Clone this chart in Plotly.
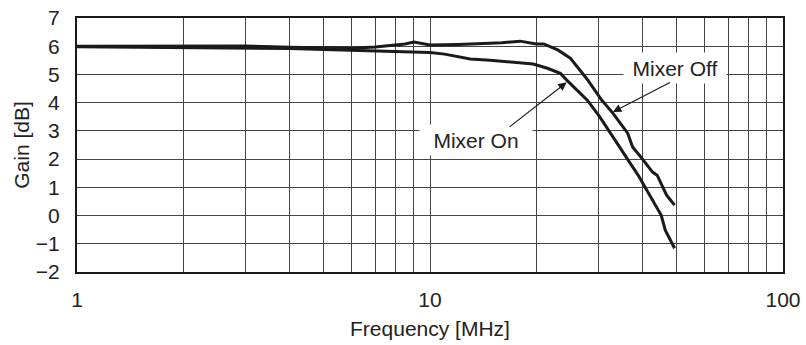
import plotly.graph_objects as go

# Mixer Off (upper curve)
freq_off = [1, 1.5, 2, 3, 4, 5, 6, 7, 8, 8.5, 9, 9.5, 10, 12, 14, 16, 18, 19, 20, 21,
            22, 23, 24, 25, 26.6, 28, 30.6, 33, 36.3, 37.5, 40, 42.7, 44, 45, 46.8, 48, 49.3]
gain_off = [6.0, 6.0, 5.99, 6.01, 5.96, 5.93, 5.93, 5.97, 6.03, 6.08, 6.15, 6.08, 6.04, 6.06, 6.1, 6.12, 6.18, 6.12, 6.08, 6.08,
            5.97, 5.87, 5.72, 5.57, 5.15, 4.8, 4.1, 3.62, 2.92, 2.43, 2.0, 1.54, 1.43, 1.15, 0.72, 0.55, 0.37]

# Mixer On (lower curve)
freq_on = [1, 2, 3, 4, 5, 6, 7, 8, 10, 11, 12.2, 13, 14.8, 17.2, 19.6, 21.5, 23.4, 24.4,
           26.6, 27.9, 30.3, 33, 36.7, 39, 41.1, 43, 45.2, 46.4, 48, 49.3]
gain_on = [5.98, 5.96, 5.95, 5.92, 5.88, 5.85, 5.83, 5.8, 5.78, 5.72, 5.63, 5.55, 5.5, 5.42, 5.37, 5.22, 5.04, 4.8,
           4.34, 4.09, 3.49, 2.8, 1.9, 1.4, 0.9, 0.5, 0.01, -0.52, -0.85, -1.16]

x_grid = [1, 2, 3, 4, 5, 6, 7, 8, 9, 10, 20, 30, 40, 50, 60, 70, 80, 90, 100]
x_labels = ["1", "", "", "", "", "", "", "", "", "10", "", "", "", "", "", "", "", "", "100"]
y_ticks = [-2, -1, 0, 1, 2, 3, 4, 5, 6, 7]

font_family = "Liberation Sans, Arial, sans-serif"
text_color = '#222222'
fsize = 21

fig = go.Figure()
fig.add_trace(go.Scatter(x=freq_off, y=gain_off, mode='lines', name='Mixer Off',
                         line=dict(color='#1a1a1a', width=3)))
fig.add_trace(go.Scatter(x=freq_on, y=gain_on, mode='lines', name='Mixer On',
                         line=dict(color='#1a1a1a', width=3)))

# labels with white boxes over the grid
fig.add_annotation(x=1.129, y=2.66, xref='x', yref='y', text='Mixer On', showarrow=False,
                   bgcolor='white', width=110, height=28, font=dict(size=fsize, color=text_color))
fig.add_annotation(x=1.695, y=5.24, xref='x', yref='y', text='Mixer Off', showarrow=False,
                   bgcolor='white', width=100, height=28, font=dict(size=fsize, color=text_color))

# arrows
fig.add_annotation(x=1.387, y=4.72, ax=1.221, ay=3.1, xref='x', yref='y', axref='x', ayref='y',
                   text='', showarrow=True, arrowhead=2, arrowsize=1.4, arrowwidth=1.2, arrowcolor='#1a1a1a')
fig.add_annotation(x=1.518, y=3.67, ax=1.684, ay=4.74, xref='x', yref='y', axref='x', ayref='y',
                   text='', showarrow=True, arrowhead=2, arrowsize=1.4, arrowwidth=1.2, arrowcolor='#1a1a1a')

fig.update_xaxes(type='log', range=[0, 2], tickvals=x_grid, ticktext=x_labels,
                 showgrid=True, gridcolor='#444444', gridwidth=1,
                 showline=True, linecolor='#1a1a1a', linewidth=2, mirror=True,
                 ticks='outside', ticklen=8, tickcolor='rgba(0,0,0,0)',
                 ticklabeloverflow='allow', automargin=False,
                 tickfont=dict(size=fsize, color=text_color, family=font_family),
                 title=dict(text='Frequency [MHz]', font=dict(size=fsize, color=text_color, family=font_family), standoff=11),
                 zeroline=False)
fig.update_yaxes(range=[-2, 7], tickvals=y_ticks,
                 showgrid=True, gridcolor='#444444', gridwidth=1,
                 showline=True, linecolor='#1a1a1a', linewidth=2, mirror=True,
                 ticks='outside', ticklen=11, tickcolor='rgba(0,0,0,0)',
                 ticklabeloverflow='allow', automargin=False,
                 tickfont=dict(size=fsize, color=text_color, family=font_family),
                 title=dict(text='Gain [dB]', font=dict(size=fsize, color=text_color, family=font_family), standoff=0),
                 zeroline=False)

fig.update_layout(width=806, height=345, margin=dict(l=77, r=23, t=18, b=73),
                  paper_bgcolor='white', plot_bgcolor='white', showlegend=False,
                  font=dict(family=font_family, color=text_color))

# drop the default 8px body margin so the figure fills the window
fig.write_html("out.html", config={'displayModeBar': False},
               post_script="document.body.style.margin='0';")
